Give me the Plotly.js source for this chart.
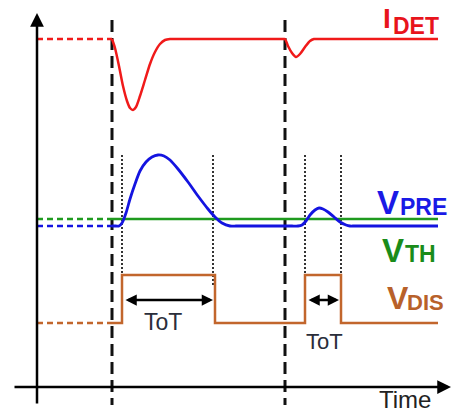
<!DOCTYPE html>
<html>
<head>
<meta charset="utf-8">
<script src="https://cdn.plot.ly/plotly-3.0.1.min.js"></script>
<style>html,body{margin:0;padding:0;background:#fff;}#chart{width:452px;height:413px;}</style>
</head>
<body>
<div id="chart"></div>
<script>
// Signal data (x = time in picture units, y = level in picture units, downward)
const idetPreX = [37, 112];
const idetPreY = [39, 39];
const idetX = [112,115,119,123,127,130,133,136,140,145,150,155,160,165,170,174,178,280,283,285,288,292,296,300,305,310,314,318,322,438];
const idetY = [39,48,66,86,101,108,110,107,96,80,64,52,44,40,39,39,39,39,39,39,46,53,57,54,47,41,39,39,39,39];

const vthPreX = [37, 112];
const vthPreY = [219, 219];
const vthX = [112, 438];
const vthY = [219, 219];

const vprePreX = [37, 112];
const vprePreY = [226, 226];
const vpreX = [112,116,119,122,126,130,135,140,146,152,158,164,170,178,188,198,208,215,222,230,236,242,285,292,298,302,306,310,315,319,323,328,334,340,346,350,354,358,438];
const vpreY = [226,226,226,223,213,199,184,171,162,157,155,156,160,169,182,196,209,217,223,226,226,226,226,226,226,225,221,215,210,208,209,212,217,222,225,226,226,226,226];

const vdisPreX = [37, 112];
const vdisPreY = [323, 323];
const vdisX = [112,122,122,215,215,305,305,341,341,438];
const vdisY = [323,323,275,275,323,323,275,275,323,323];

const eventTimes = [112, 285];
const crossTimes = [122, 213, 305, 341];
const totStart = [124, 307];
const totEnd = [213, 339];
const totLabels = ['ToT', 'ToT'];

const RED = '#f01a1a', BLUE = '#1414e0', GREEN = '#1f9a1f', BROWN = '#c2662c';

function tr(x, y, color, w, dash, spline) {
  return {x: x, y: y, type: 'scatter', mode: 'lines', hoverinfo: 'skip',
    line: {color: color, width: w, dash: dash || 'solid', shape: spline ? 'spline' : 'linear', smoothing: 0.7}};
}

const data = [
  tr(idetPreX, idetPreY, RED, 2.5, '6px,4px'),
  tr(idetX, idetY, RED, 2.5, 'solid', true),
  tr(vthPreX, vthPreY, GREEN, 2.5, '6px,4px'),
  tr(vthX, vthY, GREEN, 2.5),
  tr(vprePreX, vprePreY, BLUE, 2.5, '6px,4px'),
  tr(vpreX, vpreY, BLUE, 2.8, 'solid', true),
  tr(vdisPreX, vdisPreY, BROWN, 2.5, '6px,4px'),
  tr(vdisX, vdisY, BROWN, 2.5)
];

const shapes = [];
eventTimes.forEach(t => shapes.push({type: 'line', xref: 'x', yref: 'y', x0: t, x1: t, y0: 20, y1: 405,
  line: {color: '#111', width: 3, dash: '12px,6px'}, layer: 'below'}));
crossTimes.forEach(t => shapes.push({type: 'line', xref: 'x', yref: 'y', x0: t, x1: t, y0: 155, y1: 287,
  line: {color: '#333', width: 2, dash: '2px,2px'}, layer: 'below'}));

const annotations = [
  // axes
  {x: 37, y: 13, ax: 37, ay: 405, xref: 'x', yref: 'y', axref: 'x', ayref: 'y', text: '', showarrow: true,
   arrowhead: 2, arrowsize: 1.1, arrowwidth: 2.5, arrowcolor: '#000'},
  {x: 451, y: 387, ax: 13, ay: 387, xref: 'x', yref: 'y', axref: 'x', ayref: 'y', text: '', showarrow: true,
   arrowhead: 2, arrowsize: 1.1, arrowwidth: 2.5, arrowcolor: '#000'},
  {x: 405, y: 399, xref: 'x', yref: 'y', text: 'Time', showarrow: false, xanchor: 'center', yanchor: 'middle',
   font: {family: 'Liberation Sans, Arial, sans-serif', size: 24, color: '#222'}}
];
totStart.forEach((s, i) => {
  annotations.push({x: totEnd[i], y: 300, ax: s, ay: 300, xref: 'x', yref: 'y', axref: 'x', ayref: 'y', text: '',
    showarrow: true, arrowside: 'end+start', arrowhead: 2, arrowsize: 0.9, arrowwidth: 2.5, arrowcolor: '#000'});
});
annotations.push({x: 163, y: 322, xref: 'x', yref: 'y', text: totLabels[0], showarrow: false,
  font: {family: 'Liberation Sans, Arial, sans-serif', size: 23, color: '#2a2d3a'}});
annotations.push({x: 324, y: 341, xref: 'x', yref: 'y', text: totLabels[1], showarrow: false,
  font: {family: 'Liberation Sans, Arial, sans-serif', size: 22, color: '#2a2d3a'}});

function lbl(x, y, txt, size, color) {
  return {x: x, y: y, xref: 'x', yref: 'y', text: '<b>' + txt + '</b>', showarrow: false, xanchor: 'left', yanchor: 'middle',
    font: {family: 'Liberation Sans, Arial, sans-serif', size: size, color: color}};
}
annotations.push(lbl(381, 18, 'I', 28, '#e8141c'));
annotations.push(lbl(391, 26, 'DET', 23, '#e8141c'));
annotations.push(lbl(375, 202, 'V', 33, '#1a1ae6'));
annotations.push(lbl(398, 207, 'PRE', 23, '#1a1ae6'));
annotations.push(lbl(380, 250, 'V', 33, '#1a8c1a'));
annotations.push(lbl(403, 254, 'TH', 23, '#1a8c1a'));
annotations.push(lbl(385, 298, 'V', 32, '#b8612a'));
annotations.push(lbl(405, 302, 'DIS', 22, '#b8612a'));

const layout = {
  width: 452, height: 413, margin: {l: 0, r: 0, t: 0, b: 0},
  paper_bgcolor: '#fff', plot_bgcolor: '#fff', showlegend: false,
  xaxis: {range: [0, 452], visible: false, fixedrange: true},
  yaxis: {range: [413, 0], visible: false, fixedrange: true},
  shapes: shapes, annotations: annotations
};
Plotly.newPlot('chart', data, layout, {staticPlot: true, displayModeBar: false});
</script>
</body>
</html>
